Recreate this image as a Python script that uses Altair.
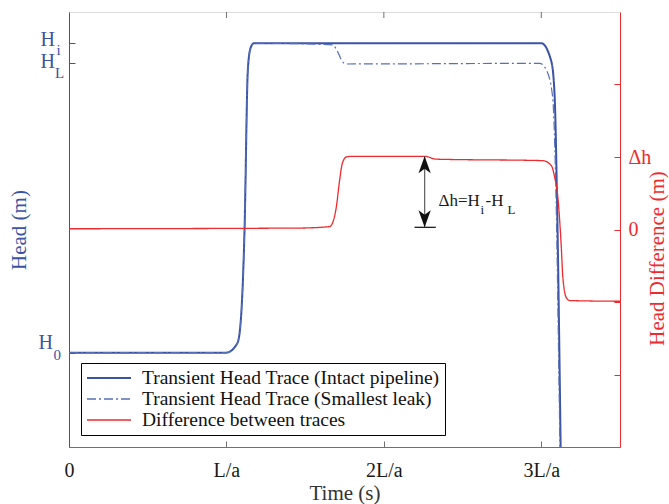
import altair as alt
import pandas as pd

# ---------------- data (time in units of L/a) ----------------
SERIES = ["Transient Head Trace (Intact pipeline)",
          "Transient Head Trace (Smallest leak)",
          "Difference between traces"]

# head normalised so that H0 = 0 and Hi = 1
t_intact = [0.0, 0.999, 1.069, 1.090, 1.115, 1.136, 1.153, 1.174, 3.000, 3.064, 3.085, 3.100, 3.123, 3.126]
h_intact = [0.0, 0.0, 0.030, 0.096, 0.397, 0.914, 0.984, 1.0, 1.0, 0.941, 0.827, 0.494, -0.305, -0.42]

t_leak = [0.0, 0.999, 1.069, 1.090, 1.115, 1.136, 1.153, 1.174, 1.674, 1.706, 1.736, 1.761,
          2.989, 3.032, 3.072, 3.094, 3.119, 3.123]
h_leak = [0.0, 0.0, 0.030, 0.096, 0.397, 0.914, 0.984, 1.0, 0.995, 0.973, 0.941, 0.933,
          0.935, 0.914, 0.827, 0.494, -0.305, -0.42]

# head difference in units of delta-h
t_diff = [0.0, 1.464, 1.655, 1.676, 1.698, 1.719, 1.736, 1.761, 1.803, 2.259, 2.333,
          3.010, 3.064, 3.085, 3.105, 3.127, 3.137, 3.159, 3.180, 3.5]
d_diff = [0.01, 0.02, 0.04, 0.10, 0.31, 0.68, 0.91, 1.0, 1.01, 1.01, 0.97,
          0.95, 0.88, 0.72, 0.45, -0.24, -0.66, -0.94, -0.98, -0.99]

x_tick_vals = [0, 1, 2, 3]
x_tick_text = ["0", "L/a", "2L/a", "3L/a"]
head_tick_vals = [1.0, 0.935, 0.0]
head_tick_main = ["H", "H", "H"]
head_tick_sub = ["i", "L", "0"]
diff_tick_vals = [-2, -1, 0, 1, 2]
diff_tick_text = ["", "", "0", "Δh", ""]
head_domain = [-0.305, 1.101]
diff_domain = [-3, 3]
x_domain = [0, 3.5]

# annotation (double arrow showing delta-h)
arrow_t = 2.259
arrow_top = 1.01
arrow_bottom = 0.03
bar_t = [2.195, 2.33]
annot_t = 2.347
annot_d = 0.40
annot_parts = ["Δh=H", "i", "-H", "L"]

# ---------------- styling ----------------
FONT = "Liberation Serif"
BLUE = "#3A53A4"
BLUE2 = "#5670B8"
RED = "#EE2A2E"
GRAY = "#707070"

intact_df = pd.DataFrame({"t": t_intact, "head": h_intact, "series": SERIES[0]})
leak_df = pd.DataFrame({"t": t_leak, "head": h_leak, "series": SERIES[1]})
diff_df = pd.DataFrame({"t": t_diff, "diff": d_diff, "series": SERIES[2]})


def expr_labels(vals, texts):
    parts = [f"datum.value == {v} ? '{s}'" for v, s in zip(vals, texts)]
    return " : ".join(parts) + " : ''"


x_scale = alt.Scale(domain=x_domain, nice=False, zero=False)
head_scale = alt.Scale(domain=head_domain, nice=False, zero=False)
diff_scale = alt.Scale(domain=diff_domain, nice=False, zero=False)

x_axis = alt.Axis(values=x_tick_vals, labelExpr=expr_labels(x_tick_vals, x_tick_text),
                  tickSize={"expr": "-6"}, tickColor=GRAY, domainColor=GRAY,
                  labelPadding=19, labelFontSize=20, labelColor="#1a1a1a", labelFont=FONT,
                  labelFlush=False,
                  title="Time (s)", titleFontSize=21, titleFontWeight="normal", titleFont=FONT,
                  titleColor="#333333", titleX=275.5, titleY=46, titleAlign="center",
                  titleBaseline="middle", grid=False)

head_axis = alt.Axis(values=head_tick_vals, labels=False, tickSize={"expr": "-6"},
                     tickColor=BLUE, domainColor=BLUE, title="Head (m)", titleColor=BLUE,
                     titleFontSize=21, titleFontWeight="normal", titleFont=FONT, titleAngle=270,
                     titleX=-49.5, titleY=217.5, titleAlign="center", titleBaseline="middle",
                     grid=False)

diff_axis = alt.Axis(orient="right", values=diff_tick_vals,
                     labelExpr=expr_labels(diff_tick_vals, diff_tick_text),
                     tickSize={"expr": "-6"}, tickColor=RED, domainColor=RED, labelColor=RED,
                     labelFontSize=20, labelFont=FONT, labelPadding=14, labelAlign="left",
                     labelBaseline="middle",
                     title="Head Difference (m)", titleColor=RED, titleFontSize=21,
                     titleFontWeight="normal", titleFont=FONT, titleAngle=270, titleX=37,
                     titleY=246, titleAlign="center", titleBaseline="middle", grid=False)

legend = alt.Legend(title=None, orient="none", legendX=12, legendY=351, strokeColor="black",
                    fillColor="white", padding=5, labelFontSize=19.5, labelFont=FONT,
                    labelColor="#111111", symbolType="stroke", symbolSize=1936, labelOffset=10,
                    rowPadding=1, clipHeight=20, labelLimit=400, cornerRadius=0,
                    symbolStrokeWidth={"expr": f"(datum.value == '{SERIES[0]}' ? 2 : 1.3)"})

color_enc = alt.Color("series:N", scale=alt.Scale(domain=SERIES, range=[BLUE, BLUE2, RED]),
                      legend=legend)
dash_enc = alt.StrokeDash("series:N", scale=alt.Scale(domain=SERIES,
                                                      range=[[1, 0], [9, 3, 2, 3], [1, 0]]),
                          legend=legend)

X = alt.X("t:Q", scale=x_scale, axis=x_axis)
YH = alt.Y("head:Q", scale=head_scale, axis=head_axis)
YD = alt.Y("diff:Q", scale=diff_scale, axis=diff_axis)

intact_line = alt.Chart(intact_df).mark_line(clip=True, interpolate="monotone", strokeWidth=2).encode(
    x=X, y=YH, color=color_enc, strokeDash=dash_enc, order=alt.Order("t:Q"))
leak_line = alt.Chart(leak_df).mark_line(clip=True, interpolate="monotone", strokeWidth=1.2).encode(
    x=X, y=YH, color=color_enc, strokeDash=dash_enc, order=alt.Order("t:Q"))

left_layers = [intact_line, leak_line]
main_off = [(-14, -3.5), (-14, -1), (-16, -10)]
sub_off = [(-12.5, 7), (-14, 10), (-15.5, 2)]
for v, m, s, mo, so in zip(head_tick_vals, head_tick_main, head_tick_sub, main_off, sub_off):
    d = alt.Data(values=[{"t": 0, "head": v, "main": m, "sub": s}])
    left_layers.append(alt.Chart(d).mark_text(align="right", baseline="middle", dx=mo[0], dy=mo[1],
                                              fontSize=20, font=FONT, color=BLUE).encode(
        x=X, y=YH, text="main:N"))
    left_layers.append(alt.Chart(d).mark_text(align="left", baseline="middle", dx=so[0], dy=so[1],
                                              fontSize=15, font=FONT, color=BLUE).encode(
        x=X, y=YH, text="sub:N"))

left_group = alt.layer(*left_layers)

diff_line = alt.Chart(diff_df).mark_line(clip=True, interpolate="monotone", strokeWidth=1.3).encode(
    x=X, y=YD, color=color_enc, strokeDash=dash_enc, order=alt.Order("t:Q"))

shaft = alt.Chart(alt.Data(values=[{"t": arrow_t, "diff": arrow_top, "d2": arrow_bottom}])).mark_rule(
    color="#666666", strokeWidth=1.3).encode(x=X, y=YD, y2="d2:Q")

bar = alt.Chart(alt.Data(values=[{"t": bar_t[0], "t2": bar_t[1], "diff": arrow_bottom}])).mark_rule(
    color="#222222", strokeWidth=1.3).encode(x=X, x2="t2:Q", y=YD)

UP = "M0,0 L0.36,1 L0,0.74 L-0.36,1 Z"
DOWN = "M0,0 L0.36,-1 L0,-0.74 L-0.36,-1 Z"
head_up = alt.Chart(alt.Data(values=[{"t": arrow_t, "diff": arrow_top}])).mark_point(
    shape=UP, size=1156, filled=True, color="#111111", opacity=1, strokeWidth=0).encode(x=X, y=YD)
head_down = alt.Chart(alt.Data(values=[{"t": arrow_t, "diff": arrow_bottom}])).mark_point(
    shape=DOWN, size=1156, filled=True, color="#111111", opacity=1, strokeWidth=0).encode(x=X, y=YD)

annot_layers = []
annot_style = [(0, 0, 17), (42, 9, 13), (47, 0, 17), (69, 9, 13)]
for txt, (dx, dy, fs) in zip(annot_parts, annot_style):
    annot_layers.append(alt.Chart(alt.Data(values=[{"t": annot_t, "diff": annot_d, "txt": txt}])).mark_text(
        align="left", baseline="middle", dx=dx, dy=dy, fontSize=fs, font=FONT, color="#1a1a1a").encode(
        x=X, y=YD, text="txt:N"))

top_ticks = alt.Chart(alt.Data(values=[{"t": v} for v in x_tick_vals[1:]])).mark_rule(
    color=GRAY, strokeWidth=1).encode(x=X, y=alt.value(0), y2=alt.value(6))

right_group = alt.layer(diff_line, shaft, bar, head_up, head_down, *annot_layers, top_ticks)

chart = alt.layer(left_group, right_group).resolve_scale(y="independent").properties(
    width=551, height=435,
    autosize=alt.AutoSizeParams(type="none"),
    padding={"left": 69, "top": 12, "right": 49, "bottom": 57},
    background="white",
).configure_view(stroke=GRAY, strokeWidth=1).configure(font=FONT)

chart.save("out.html", embed_options={"renderer": "svg", "actions": False})
